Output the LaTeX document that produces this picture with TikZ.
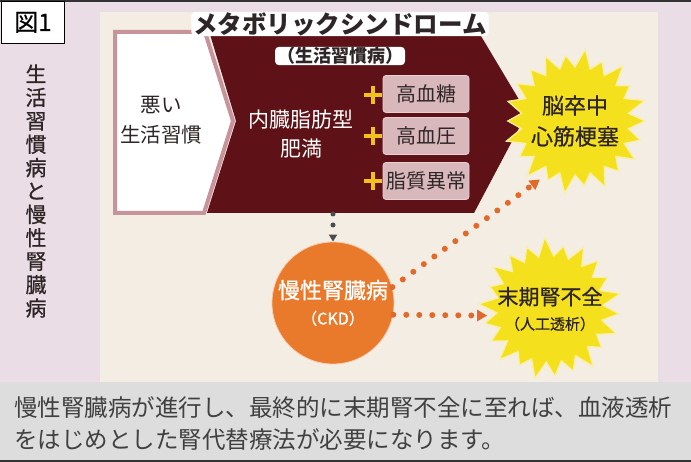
\documentclass[tikz,border=0pt]{standalone}
\usepackage{fontspec}
\setmainfont{Noto Sans CJK JP}
\newfontfamily\jpsemi{Noto Sans CJK JP}[FakeBold=0.7]
\usetikzlibrary{shapes.geometric,arrows.meta}
\definecolor{pinkbg}{HTML}{EBDDE5}
\definecolor{creambg}{HTML}{F3EDE4}
\definecolor{maroon}{HTML}{5E1116}
\definecolor{pinkline}{HTML}{C8949C}
\definecolor{boxfill}{HTML}{D9B8BC}
\definecolor{boxline}{HTML}{E8D0D4}
\definecolor{staryellow}{HTML}{F5E01E}
\definecolor{starglow}{HTML}{FAF0A0}
\definecolor{ckdorange}{HTML}{E9792B}
\definecolor{dotorange}{HTML}{E2692A}
\definecolor{greyband}{HTML}{DCDDDC}
\definecolor{darktext}{HTML}{2E2626}
\definecolor{plusyellow}{HTML}{F2C21C}
\begin{document}
\begin{tikzpicture}[x=1pt,y=-1pt,
  riskbox/.style={rectangle, rounded corners=3pt, fill=boxfill, draw=boxline, line width=0.8pt,
    minimum width=86pt, minimum height=37pt, inner sep=0pt, text=darktext,
    font=\fontsize{20}{24}\selectfont},
  burstfill/.style={fill=staryellow, draw=starglow, line width=1.2pt, line join=miter},
  bursttext/.style={circle, inner sep=0pt, align=center, text=darktext},
  plusmark/.style={draw=plusyellow, line width=4.2pt},
  orangedots/.style={draw=dotorange, line width=6pt, line cap=round, dash pattern=on 0pt off 13pt,
    -{Triangle[length=10pt,width=11pt,fill=dotorange]}},
  darkdots/.style={draw=black!70, line width=5pt, line cap=round, dash pattern=on 0pt off 11pt,
    -{Triangle[length=7pt,width=8pt,fill=black!70]}},
  halo/.style={fill=white, rounded corners=4pt, inner xsep=2pt, inner ysep=0.5pt}
]
\useasboundingbox (0,0) rectangle (691,462);
% backgrounds
\fill[pinkbg] (0,0) rectangle (691,382);
\fill[greyband] (0,382) rectangle (691,462);
\fill[black!80] (0,0) rectangle (691,1.6);
\fill[black!80] (0,460.4) rectangle (691,462);
\fill[creambg] (100,12) rectangle (658,382);

% figure label
\node[draw=black, line width=1.4pt, fill=white, minimum width=63pt, minimum height=42pt,
  inner sep=0pt, anchor=north west, font=\jpsemi\fontsize{24}{28}\selectfont] (fig) at (0.7,0.7) {図1};

% vertical side title
\node[align=center, text=darktext, font=\jpsemi\fontsize{21}{23.4}\selectfont, inner sep=0pt]
  (side) at (36,191) {生\\活\\習\\慣\\病\\と\\慢\\性\\腎\\臓\\病};

% white chevron box (bad lifestyle)
\filldraw[fill=white, draw=pinkline, line width=4pt, line join=miter]
  (115,32) -- (205,32) -- (233,121) -- (204,213) -- (115,213) -- cycle;
% maroon metabolic syndrome arrow
\fill[maroon] (209,31) -- (478,31) -- (527,113) -- (474,213) -- (207,213) -- (236,121) -- cycle;
\coordinate (mbot) at (333,214);

% titles
\node[halo, text=darktext, font=\bfseries\fontsize{24.5}{28}\selectfont] (title) at (340,24)
  {メタボリックシンドローム};
\node[halo, text=darktext, font=\bfseries\fontsize{18}{22}\selectfont] (subtitle) at (340,56)
  {（生活習慣病）};

% texts in the arrow
\node[align=center, text=darktext, font=\fontsize{20.5}{30}\selectfont] (bad) at (161,120)
  {悪い\\生活習慣};
\node[align=center, text=white, font=\fontsize{21}{29}\selectfont] (obes) at (301,134)
  {内臓脂肪型\\肥満};

% risk boxes
\node[riskbox] (r1) at (426,94) {高血糖};
\node[riskbox] (r2) at (426,136) {高血圧};
\node[riskbox] (r3) at (426,181) {脂質異常};
\foreach \yy in {95,136,181}{
  \draw[plusmark] (364,\yy) -- (382,\yy);
  \draw[plusmark] (373,\yy-9) -- (373,\yy+9);
}

% outcome starbursts (drawn shapes)
\begin{scope}[shift={(575,121)}]
  \path[burstfill] (0:70) \foreach \i in {1,...,43}{
    -- ({\i*360/44}:{mod(\i,2)==0 ? 69+4*sin(\i*97) : 54})} -- cycle;
\end{scope}
\begin{scope}[shift={(550,309)}]
  \path[burstfill] (4:69) \foreach \i in {1,...,43}{
    -- ({4+\i*360/44}:{mod(\i,2)==0 ? 68+4*sin(\i*71) : 53})} -- cycle;
\end{scope}
\node[bursttext, minimum size=136pt, font=\jpsemi\fontsize{22}{31}\selectfont] (s1) at (575,121)
  {脳卒中\\心筋梗塞};
\node[bursttext, minimum size=126pt, font=\jpsemi\fontsize{21}{25}\selectfont] (s2) at (550,309)
  {末期腎不全\\{\fontsize{15}{18}\selectfont （人工透析）}};

% CKD circle
\node[circle, fill=ckdorange, draw=ckdorange!40!white, line width=0.8pt, minimum size=122pt,
  inner sep=0pt, align=center, text=white, font=\jpsemi\fontsize{22}{26}\selectfont] (ckd) at (333,303)
  {慢性腎臓病\\{\fontsize{16}{20}\selectfont （CKD）}};

% connectors
\draw[darkdots] (mbot) -- (ckd.north);
\draw[orangedots] (ckd.15) -- (s1.239);
\draw[orangedots] (ckd.-11) -- (s2.186);

% bottom caption
\node[anchor=west, align=left, text=black!75, inner sep=0pt,
  font=\fontsize{23.5}{32}\selectfont] (caption) at (14,424)
  {慢性腎臓病が進行し、最終的に末期腎不全に至れば、血液透析\\をはじめとした腎代替療法が必要になります。};
\end{tikzpicture}
\end{document}
